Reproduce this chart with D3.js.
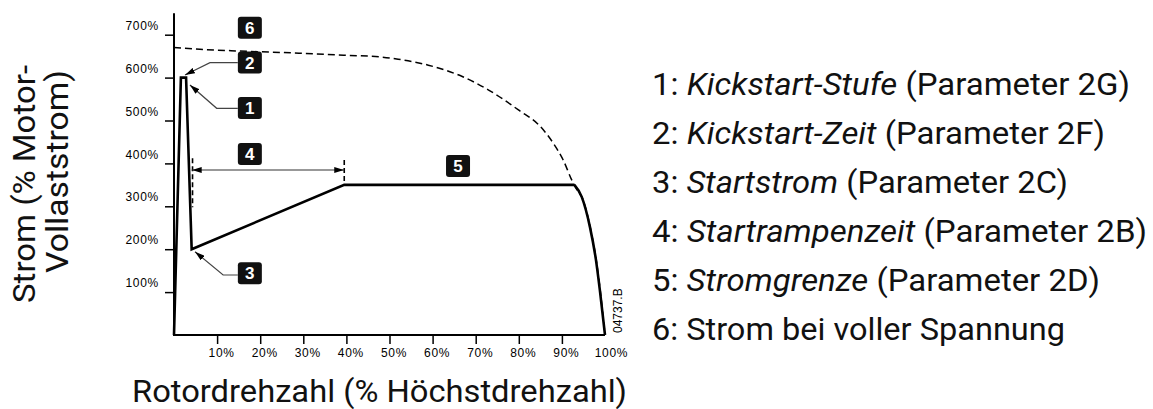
<!DOCTYPE html>
<html><head><meta charset="utf-8">
<script src="https://cdn.jsdelivr.net/npm/d3@7"></script>
<style>body{margin:0;background:#fff}svg{display:block}</style>
</head><body><svg id="c" width="1153" height="409"></svg>
<script>
// ---- data ----
const xTicks = [10,20,30,40,50,60,70,80,90,100];
const yTicks = [100,200,300,400,500,600,700];
const startPhase = [[0,0],[1.6,600],[2.8,600],[4.1,200],[39.5,350],[92.9,350]];
const dropPhase = [[92.9,350],[94.6,322],[96.5,252],[97.9,175],[98.8,105],[100,0]];
const fullVoltage = [[0,670],[6,666],[15,662],[29,657],[40,652],[48,648],[52,643],[59,629],[67,602],[73,571],[80,524],[85,486],[88,447],[90.3,408],[92.3,361],[93.4,340],[94.8,318],[96.6,250],[98,173],[98.9,104],[100,0]];
const markerLabels = ["1","2","3","4","5","6"];
const markerPos = [[17.6,529],[17.6,635],[17.6,144],[17.6,422],[65.9,394],[17.6,716]];
const pointerArrows = [
  [[14.8,528.4],[9.9,528.4],[3.7,582.7]],
  [[14.8,634.7],[8.35,634.7],[2.55,606]],
  [[14.8,139.9],[11.4,139.9],[4.87,194.2]]
];
const rampSpan = [[4.1,384.6],[39.5,384.6]];
const rampGuides = [[[4.3,412],[4.3,298]],[[39.5,408],[39.5,354]]];
const legendItems = [
  ["1: ","Kickstart-Stufe"," (Parameter 2G)"],
  ["2: ","Kickstart-Zeit"," (Parameter 2F)"],
  ["3: ","Startstrom"," (Parameter 2C)"],
  ["4: ","Startrampenzeit"," (Parameter 2B)"],
  ["5: ","Stromgrenze"," (Parameter 2D)"],
  ["6: Strom bei voller Spannung","",""]
];
const legendWidths = [478,453,416,495,448,413];
const xTitle = "Rotordrehzahl (% Höchstdrehzahl)";
const yTitleLines = ["Strom (% Motor-","Vollaststrom)"];
const drawingId = "04737.B";

// ---- chart ----
const svg = d3.select("#c");
const x = d3.scaleLinear().domain([0,100]).range([174,605]);
const y = d3.scaleLinear().domain([0,700]).range([335,34.7]);
const FONT = "Roboto, 'Open Sans', sans-serif";
const TICKFONT = "'Liberation Sans', Arial, sans-serif";

const defs = svg.append("defs");
defs.append("marker").attr("id","ah").attr("viewBox","0 0 10 6")
  .attr("refX",10).attr("refY",3).attr("markerWidth",10).attr("markerHeight",6)
  .attr("markerUnits","userSpaceOnUse").attr("orient","auto-start-reverse")
  .append("path").attr("d","M0,0L10,3L0,6Z").attr("fill","#000");

// axes
const gy = svg.append("g").attr("transform",`translate(${x(0)},0)`)
  .call(d3.axisLeft(y).tickValues(yTicks).tickSize(9).tickFormat(d=>d+"%"));
gy.select(".domain").remove();
gy.selectAll(".tick line").attr("stroke","#000").attr("stroke-width",1.5);
gy.selectAll(".tick text").attr("x",-15).attr("dy","-0.45em")
  .attr("font-family",TICKFONT).attr("font-size",12).attr("letter-spacing","0.7px").attr("fill","#000");

const gx = svg.append("g").attr("transform",`translate(0,${y(0)})`)
  .call(d3.axisBottom(x).tickValues(xTicks).tickSize(9).tickFormat(d=>d+"%"));
gx.select(".domain").remove();
gx.selectAll(".tick line").attr("stroke","#000").attr("stroke-width",1.5)
  .attr("opacity",d=>d===100?0:1);
gx.selectAll(".tick text").attr("y",13).attr("dx",d=>d===100?6:4).attr("dy","0.71em")
  .attr("font-family",TICKFONT).attr("font-size",12).attr("letter-spacing","0.7px").attr("fill","#000");

svg.append("path").attr("d",`M${x(0)},${y(0)-321.7}V${y(0)}H${x(100)}`)
  .attr("fill","none").attr("stroke","#000").attr("stroke-width",2);

// curves
svg.append("path").datum(fullVoltage)
  .attr("d",d3.line().x(d=>x(d[0])).y(d=>y(d[1])).curve(d3.curveMonotoneX))
  .attr("fill","none").attr("stroke","#000").attr("stroke-width",1.5)
  .attr("stroke-dasharray","7,4");
svg.append("path").datum(startPhase)
  .attr("d",d3.line().x(d=>x(d[0])).y(d=>y(d[1])))
  .attr("fill","none").attr("stroke","#000").attr("stroke-width",2.6)
  .attr("stroke-linejoin","miter");
svg.append("path").datum(dropPhase)
  .attr("d",d3.line().x(d=>x(d[0])).y(d=>y(d[1])).curve(d3.curveMonotoneX))
  .attr("fill","none").attr("stroke","#000").attr("stroke-width",2.6);

// ramp guides and span arrow
rampGuides.forEach(g=>{
  svg.append("line").attr("x1",x(g[0][0])).attr("x2",x(g[1][0]))
    .attr("y1",y(g[0][1])).attr("y2",y(g[1][1]))
    .attr("stroke","#000").attr("stroke-width",1.6).attr("stroke-dasharray","5,3");
});
svg.append("path").datum(rampSpan)
  .attr("d",d3.line().x(d=>x(d[0])).y(d=>y(d[1])))
  .attr("fill","none").attr("stroke","#333").attr("stroke-width",1.2)
  .attr("marker-start","url(#ah)").attr("marker-end","url(#ah)");

// pointer arrows
pointerArrows.forEach(a=>{
  svg.append("path").datum(a)
    .attr("d",d3.line().x(d=>x(d[0])).y(d=>y(d[1])))
    .attr("fill","none").attr("stroke","#444").attr("stroke-width",1.2)
    .attr("marker-end","url(#ah)");
});

// number markers
markerLabels.forEach((t,i)=>{
  const cx = x(markerPos[i][0]), cy = y(markerPos[i][1]);
  svg.append("rect").attr("x",cx-12).attr("y",cy-11).attr("width",24).attr("height",22)
    .attr("rx",3).attr("fill","#111");
  svg.append("text").attr("x",cx).attr("y",cy+6).attr("text-anchor","middle")
    .attr("font-family",TICKFONT).attr("font-weight","bold").attr("font-size",17)
    .attr("fill","#fff").text(t);
});

// drawing id
svg.append("text").attr("transform",`translate(621.5,333) rotate(-90)`)
  .attr("font-family",TICKFONT).attr("font-size",12).attr("fill","#000").text(drawingId);

// axis titles
svg.append("text").attr("x",132).attr("y",402)
  .attr("font-family",FONT).attr("font-size",32).attr("fill","#111")
  .attr("textLength",495).attr("lengthAdjust","spacingAndGlyphs").text(xTitle);
const yTitlePos = [[35,303,238],[68,273,203]];
yTitleLines.forEach((t,i)=>{
  const p = yTitlePos[i];
  svg.append("text").attr("transform",`translate(${p[0]},${p[1]}) rotate(-90)`)
    .attr("font-family",FONT).attr("font-size",32).attr("fill","#111")
    .attr("textLength",p[2]).attr("lengthAdjust","spacingAndGlyphs").text(t);
});

// legend
legendItems.forEach((it,i)=>{
  const t = svg.append("text").attr("x",652).attr("y",95+i*49)
    .attr("font-family",FONT).attr("font-size",31).attr("fill","#111")
    .attr("textLength",legendWidths[i]).attr("lengthAdjust","spacingAndGlyphs");
  t.append("tspan").text(it[0]);
  if(it[1]) t.append("tspan").attr("font-style","italic").text(it[1]);
  if(it[2]) t.append("tspan").text(it[2]);
});
</script></body></html>
